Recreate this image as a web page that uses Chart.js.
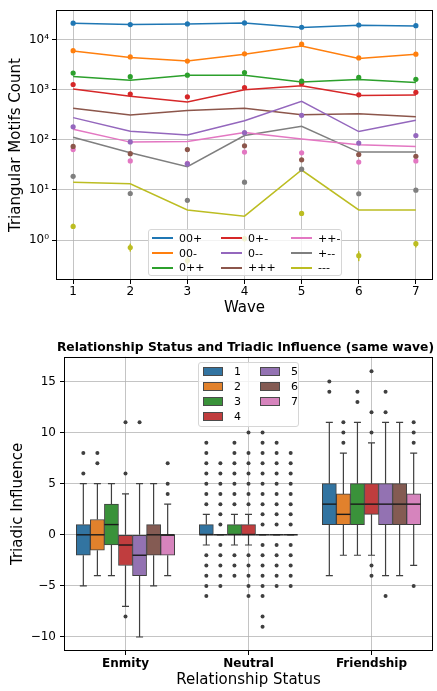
<!DOCTYPE html>
<html lang="en">
<head>
  <meta charset="UTF-8" />
  <title>Triangular motifs and triadic influence</title>
  <script src="https://cdn.jsdelivr.net/npm/chart.js"></script>
  <style>
    body { margin: 0; background: #fff; font-family: 'DejaVu Sans', sans-serif; color: #000; }
    #wrap { position: relative; width: 437px; height: 691px; overflow: hidden; }
    #motifChart { position: absolute; left: 0; top: 0; }
    #influenceChart { position: absolute; left: 0; top: 330px; }
    .legend {
      position: absolute;
      box-sizing: border-box;
      background: rgba(255, 255, 255, 0.8);
      border: 1px solid #d6d6d6;
      border-radius: 3px;
      font-size: 11px;
      display: grid;
      grid-auto-flow: column;
    }
    #legendTop { left: 148px; top: 229px; width: 194px; height: 47px; padding: 1px 0 0 3px;
      grid-template-rows: repeat(3, 14.7px); grid-template-columns: 69px 70px 52px; }
    #legendBottom { left: 198px; top: 362px; width: 101px; height: 65px; padding: 1px 0 0 4px;
      grid-template-rows: repeat(4, 15.1px); grid-template-columns: 57px 38px; }
    .item { display: flex; align-items: center; white-space: nowrap; }
    .line { display: inline-block; width: 21px; height: 2px; margin-right: 6px; }
    .patch { display: inline-block; width: 18px; height: 7px; border: 1px solid #4a4a4a; margin-right: 11px; }
  </style>
</head>
<body>
  <div id="wrap">
    <canvas id="motifChart" width="437" height="320"></canvas>
    <canvas id="influenceChart" width="437" height="361"></canvas>
    <div class="legend" id="legendTop"></div>
    <div class="legend" id="legendBottom"></div>
  </div>

  <script>
    // ---- top chart: triangular motif counts per wave
    const waves = [1, 2, 3, 4, 5, 6, 7];
    const motifs = ['00+', '00-', '0++', '0+-', '0--', '+++', '++-', '+--', '---'];

    // fitted (lines)
    const fit00p = [21100, 19900, 20500, 21400, 17400, 19300, 18700];
    const fit00m = [5900, 4400, 3720, 5100, 7400, 4200, 5100];
    const fit0pp = [1840, 1540, 1930, 1930, 1430, 1590, 1390];
    const fit0pm = [1030, 740, 567, 1000, 1200, 765, 785];
    const fit0mm = [277, 148, 125, 240, 586, 146, 245];
    const fitppp = [428, 313, 385, 427, 316, 330, 290];
    const fitppm = [162, 90, 93, 140, 104, 80, 74];
    const fitpmm = [113, 55, 29, 122, 187, 57, 57];
    const fitmmm = [14.3, 13.3, 4.0, 3.0, 25, 4.0, 4.0];

    // observed (dots)
    const obs00p = [21200, 19900, 20500, 21500, 17600, 19500, 18900];
    const obs00m = [6000, 4500, 3720, 5200, 8100, 4300, 5100];
    const obs0pp = [2140, 1820, 1950, 2200, 1480, 1760, 1610];
    const obs0pm = [1270, 820, 720, 1100, 1350, 790, 885];
    const obs0mm = [182, 91, 33, 139, 308, 86, 122];
    const obsppp = [74, 53, 64, 76, 40, 51, 47];
    const obsppm = [64, 38, 34, 57, 55, 36, 38];
    const obspmm = [18.7, 8.5, 6.2, 14.3, 26, 8.4, 9.9];
    const obsmmm = [1.87, 0.71, 0.39, 1.07, 3.4, 0.49, 0.85];
    const errLowMmm = [1.66, 0.59, 0.32, 0.93, 3.1, 0.38, 0.71];
    const errHighMmm = [2.12, 0.85, 0.47, 1.22, 3.8, 0.6, 0.95];

    const countTicks = [1, 10, 100, 1000, 10000];
    const countTickText = ['10⁰', '10¹', '10²', '10³', '10⁴'];

    // ---- bottom chart: triadic influence by relationship status, one box per wave
    const statuses = ['Enmity', 'Neutral', 'Friendship'];
    const statusTicks = [0, 1, 2];
    const waveNames = ['1', '2', '3', '4', '5', '6', '7'];
    // [wave][status]
    const boxQ1 = [[-2, 0, 1], [-1.5, 0, 1], [-1, 0, 1], [-3, 0, 2], [-4, 0, 1], [-2, 0, 1], [-2, 0, 1]];
    const boxMed = [[0, 0, 3], [0, 0, 2], [1, 0, 3], [-1, 0, 3], [-2, 0, 3], [0, 0, 3], [0, 0, 3]];
    const boxQ3 = [[1, 1, 5], [1.5, 0, 4], [3, 1, 5], [0, 1, 5], [0, 0, 5], [1, 0, 5], [0, 0, 4]];
    const whiskLow = [[-5, -1, -4], [-4, 0, -2], [-4, -1, -2], [-7, -1, -2], [-10, 0, -4], [-5, 0, -4], [-4, 0, -3]];
    const whiskHigh = [[5, 2, 11], [5, 0, 8], [5, 2, 11], [4, 2, 9], [5, 0, 11], [5, 0, 11], [3, 0, 8]];
    const fliers = [
      [[6, 8], [3, 4, 5, 6, 7, 8, 9, -2, -3, -4, -5, -6], [14, 15]],
      [[7, 8], [1, 2, 3, 4, 5, 6, 7, -1, -2, -3, -4, -5], [9, 10, 11]],
      [[], [3, 4, 5, 6, 7, 8, 9, -2, -3, -4], [13, 14]],
      [[6, 11, -8], [3, 4, 5, 6, 7, 8, 10, -2, -3, -4, -5, -6], [10, 12, 16, -3, -4]],
      [[11], [1, 2, 3, 4, 5, 6, 7, 8, 9, 10, -1, -2, -3, -4, -5, -6, -8, -9], [12, 14, -6]],
      [[], [1, 2, 3, 4, 5, 6, 7, 8, 9, -1, -2, -3, -4, -5], []],
      [[4, 5, 7], [1, 2, 3, 4, 5, 6, 7, 8, -1, -2, -3, -4, -5], [9, 10, 11, -5]]
    ];
    const influenceTicks = [-10, -5, 0, 5, 10, 15];

    // styles
    const motifColors = ['#1f77b4', '#ff7f0e', '#2ca02c', '#d62728', '#9467bd', '#8c564b', '#e377c2', '#7f7f7f', '#bcbd22'];
    const boxColors = ['#3274a1', '#e1812c', '#3a923a', '#c03d3e', '#9372b2', '#845b53', '#d684bd'];
    const gridColor = 'rgba(176,176,176,0.75)';
    const edgeColor = '#3f3f3f';

    Chart.defaults.font.family = "'DejaVu Sans', sans-serif";
    Chart.defaults.color = '#000';

    const frame = {
      id: 'frame',
      afterDraw(chart) {
        const { ctx, chartArea: a } = chart;
        ctx.save();
        ctx.strokeStyle = '#000';
        ctx.lineWidth = 1;
        ctx.strokeRect(Math.round(a.left) + 0.5, Math.round(a.top) + 0.5,
          Math.round(a.right - a.left) - 1, Math.round(a.bottom - a.top) - 1);
        ctx.restore();
      }
    };

    const fitted = [fit00p, fit00m, fit0pp, fit0pm, fit0mm, fitppp, fitppm, fitpmm, fitmmm];
    const observed = [obs00p, obs00m, obs0pp, obs0pm, obs0mm, obsppp, obsppm, obspmm, obsmmm];
    const xy = vals => waves.map((w, i) => ({ x: w, y: vals[i] }));

    const motifSets = [];
    motifs.forEach((m, i) => {
      motifSets.push({ label: m, data: xy(fitted[i]), borderColor: motifColors[i], borderWidth: 1.5,
        pointRadius: 0, fill: false, tension: 0, order: 1 });
      motifSets.push({ label: m + ' obs', data: xy(observed[i]), showLine: false, pointRadius: 2.6,
        pointBackgroundColor: motifColors[i], pointBorderWidth: 0, order: 0 });
    });

    const errorBars = {
      id: 'errorBars',
      afterDatasetsDraw(chart) {
        const { ctx, scales: { x, y } } = chart;
        ctx.save();
        ctx.strokeStyle = motifColors[8];
        ctx.lineWidth = 1.5;
        waves.forEach((w, i) => {
          ctx.beginPath();
          ctx.moveTo(x.getPixelForValue(w), y.getPixelForValue(errLowMmm[i]));
          ctx.lineTo(x.getPixelForValue(w), y.getPixelForValue(errHighMmm[i]));
          ctx.stroke();
        });
        ctx.restore();
      }
    };

    new Chart(document.getElementById('motifChart'), {
      type: 'line',
      data: { datasets: motifSets },
      options: {
        responsive: false,
        animation: false,
        layout: { padding: { top: 4, right: 3 } },
        plugins: { legend: { display: false }, tooltip: { enabled: false } },
        scales: {
          x: {
            type: 'linear', min: 0.7, max: 7.3,
            afterBuildTicks: ax => { ax.ticks = waves.map(v => ({ value: v })); },
            afterFit: ax => { ax.height = 40; },
            grid: { color: gridColor, tickColor: '#000', tickLength: 4 },
            border: { display: false },
            ticks: { font: { size: 12 }, padding: 1, autoSkip: false, maxRotation: 0 },
            title: { display: true, text: 'Wave', font: { size: 15 }, padding: { top: 0, bottom: 3 } }
          },
          y: {
            type: 'logarithmic', min: 0.16, max: 38500,
            afterBuildTicks: ax => { ax.ticks = countTicks.map(v => ({ value: v })); },
            afterFit: ax => { ax.width = 56; },
            grid: { color: gridColor, tickColor: '#000', tickLength: 4 },
            border: { display: false },
            ticks: { font: { size: 12 }, padding: 3, autoSkip: false,
              callback: v => countTickText[countTicks.indexOf(v)] },
            title: { display: true, text: 'Triangular Motifs Count', font: { size: 15 }, padding: { top: 7, bottom: 0 } }
          }
        }
      },
      plugins: [errorBars, frame]
    });

    // ---- bottom chart
    // box k of a status group sits at status index + offset, boxes side by side across 0.8 of the slot
    const slot = 0.8 / waveNames.length;
    const boxPos = (j, k) => j - 0.4 + (k + 0.5) * slot;

    const boxSets = waveNames.map((wv, k) => ({
      label: wv,
      data: statuses.map((s, j) => ({ x: boxPos(j, k), y: [boxQ1[k][j], boxQ3[k][j]] })),
      backgroundColor: boxColors[k],
      borderColor: edgeColor,
      borderWidth: 1,
      borderSkipped: false,
      grouped: false,
      categoryPercentage: 1.0,
      barPercentage: 1.0
    }));
    const flierPoints = [];
    fliers.forEach((byStatus, k) => {
      byStatus.forEach((vals, j) => {
        vals.forEach(v => flierPoints.push({ x: boxPos(j, k), y: v }));
      });
    });
    boxSets.push({ type: 'scatter', label: 'fliers', data: flierPoints,
      pointRadius: 2, pointBackgroundColor: edgeColor, pointBorderWidth: 0 });

    const boxParts = {
      id: 'boxParts',
      afterDatasetsDraw(chart) {
        const { ctx, scales: { y } } = chart;
        ctx.save();
        waveNames.forEach((wv, k) => {
          const meta = chart.getDatasetMeta(k);
          statuses.forEach((s, j) => {
            const bar = meta.data[j];
            const x = bar.x, w = bar.width;
            const yLo = y.getPixelForValue(whiskLow[k][j]);
            const yHi = y.getPixelForValue(whiskHigh[k][j]);
            ctx.strokeStyle = edgeColor;
            ctx.lineWidth = 1.2;
            ctx.beginPath();
            ctx.moveTo(x, y.getPixelForValue(boxQ1[k][j])); ctx.lineTo(x, yLo);
            ctx.moveTo(x, y.getPixelForValue(boxQ3[k][j])); ctx.lineTo(x, yHi);
            ctx.moveTo(x - w / 4, yLo); ctx.lineTo(x + w / 4, yLo);
            ctx.moveTo(x - w / 4, yHi); ctx.lineTo(x + w / 4, yHi);
            ctx.stroke();
            const yMed = y.getPixelForValue(boxMed[k][j]);
            ctx.strokeStyle = '#1a1a1a';
            ctx.lineWidth = 1.4;
            ctx.beginPath();
            ctx.moveTo(x - w / 2, yMed); ctx.lineTo(x + w / 2, yMed);
            ctx.stroke();
          });
        });
        ctx.restore();
      }
    };

    new Chart(document.getElementById('influenceChart'), {
      type: 'bar',
      data: { datasets: boxSets },
      options: {
        responsive: false,
        animation: false,
        layout: { padding: { right: 3 } },
        plugins: {
          legend: { display: false },
          tooltip: { enabled: false },
          title: { display: true, text: 'Relationship Status and Triadic Influence (same wave)', align: 'end',
            font: { size: 12.3, weight: 'bold' }, color: '#000', padding: { top: 10, bottom: 2 } }
        },
        scales: {
          x: {
            type: 'linear', min: -0.5, max: 2.5, offset: false,
            afterBuildTicks: ax => { ax.ticks = statusTicks.map(v => ({ value: v })); },
            afterFit: ax => { ax.height = 40; },
            grid: { offset: false, color: gridColor, tickColor: '#000', tickLength: 4 },
            border: { display: false },
            ticks: { font: { size: 12, weight: 'bold' }, padding: 2, autoSkip: false, maxRotation: 0,
              callback: v => statuses[statusTicks.indexOf(v)] },
            title: { display: true, text: 'Relationship Status', font: { size: 15 }, padding: { top: 0, bottom: 2 } }
          },
          y: {
            min: -11.37, max: 17.42,
            afterBuildTicks: ax => { ax.ticks = influenceTicks.map(v => ({ value: v })); },
            afterFit: ax => { ax.width = 64; },
            grid: { color: gridColor, tickColor: '#000', tickLength: 4 },
            border: { display: false },
            ticks: { font: { size: 12 }, padding: 4, autoSkip: false,
              callback: v => (v < 0 ? '−' + Math.abs(v) : String(v)) },
            title: { display: true, text: 'Triadic Influence', font: { size: 15 }, padding: { top: 9, bottom: 0 } }
          }
        }
      },
      plugins: [boxParts, frame]
    });

    // legends inside the plots
    document.getElementById('legendTop').innerHTML = motifs.map((m, i) =>
      `<div class="item"><span class="line" style="background:${motifColors[i]}"></span>${m}</div>`).join('');
    document.getElementById('legendBottom').innerHTML = waveNames.map((wv, k) =>
      `<div class="item"><span class="patch" style="background:${boxColors[k]}"></span>${wv}</div>`).join('');
  </script>
</body>
</html>
